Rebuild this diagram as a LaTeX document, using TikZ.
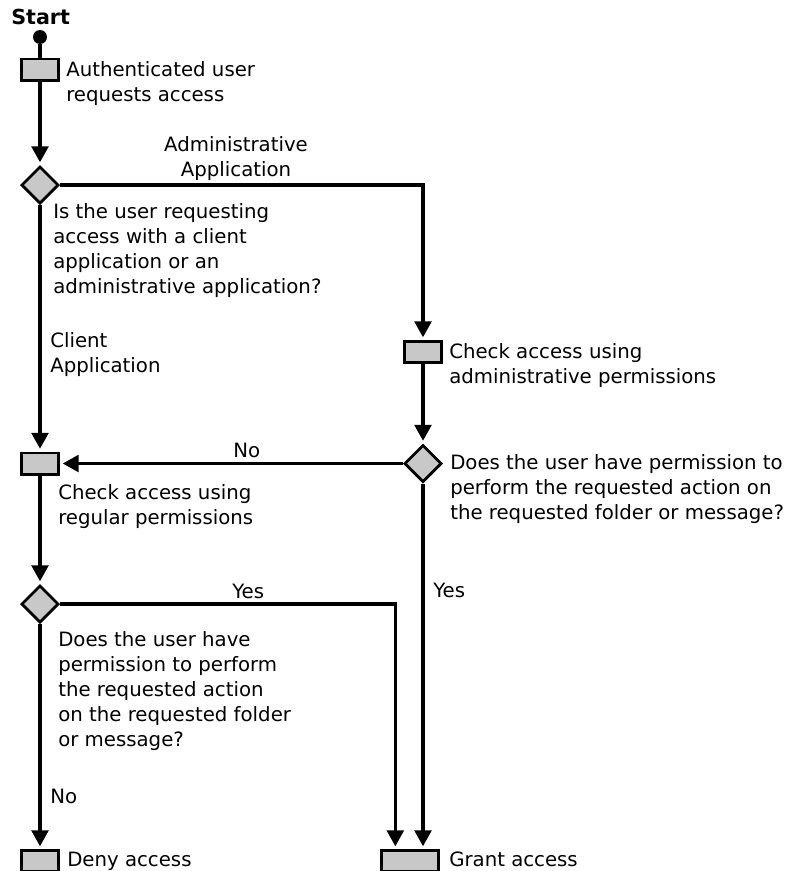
\documentclass[tikz,border=0pt]{standalone}
\usepackage{fontspec}
\setmainfont{DejaVu Sans}
\usetikzlibrary{arrows.meta,shapes.geometric}
\definecolor{boxgray}{RGB}{200,200,200}
\begin{document}
\begin{tikzpicture}[x=0.75pt,y=-0.75pt,
  wire/.style={line width=2.6pt},
  flow/.style={wire,-{Triangle[length=12pt,width=12.5pt]},shorten >=2pt},
  actbox/.style={draw,line width=2pt,fill=boxgray,minimum width=28pt,minimum height=16pt,inner sep=0pt},
  decision/.style={diamond,draw,line width=2pt,fill=boxgray,minimum width=28pt,minimum height=28pt,inner sep=0pt},
  lbl/.style={font=\fontsize{14.8}{18.75}\selectfont,align=left,anchor=base west,inner sep=0pt},
]
\useasboundingbox (0,0) rectangle (788,871);

% shapes
\node[circle,fill=black,inner sep=0pt,minimum size=10.5pt] (start) at (40,37) {};
\node[actbox] (req) at (40,69.5) {};
\node[decision] (d1) at (40,185) {};
\node[actbox] (adm) at (423,352) {};
\node[decision] (d2) at (423,463.5) {};
\node[actbox] (reg) at (40,463.5) {};
\node[decision] (d3) at (40,604) {};
\node[actbox] (deny) at (40,861) {};
\node[actbox,minimum width=42.5pt] (grant) at (410,861) {};

% connectors
\draw[wire] (start) -- (req);
\draw[flow] (req) -- (d1);
\draw[flow] (d1.east) -| (adm.north);
\draw[flow] (adm) -- (d2);
\draw[flow] (d2.west) -- (reg.east);
\draw[flow] (d1) -- (reg);
\draw[flow] (reg) -- (d3);
\draw[flow] (d3) -- (deny);
\draw[flow] (d3.east) -| ([xshift=-11pt]grant.north);
\draw[flow] (d2.south) -- (d2.south |- grant.north);

% texts (multi-line labels are placed by the baseline of their last line)
\node[lbl,font=\fontsize{15.5}{18.75}\selectfont\bfseries] (tstart) at (11,24) {Start};
\node[lbl] (treq) at (66,101) {Authenticated user\\requests access};
\node[lbl,align=center,anchor=base] (tadmapp) at (236,176) {Administrative\\Application};
\node[lbl] (tq1) at (53,293) {Is the user requesting\\access with a client\\application or an\\administrative application?};
\node[lbl] (tclient) at (50,372) {Client\\Application};
\node[lbl] (tadm) at (449,383) {Check access using\\administrative permissions};
\node[lbl] (tno1) at (233,457) {No};
\node[lbl] (tq2) at (450,519) {Does the user have permission to\\perform the requested action on\\the requested folder or message?};
\node[lbl] (treg) at (58,524) {Check access using\\regular permissions};
\node[lbl] (tyes1) at (232,598) {Yes};
\node[lbl] (tyes2) at (433,597) {Yes};
\node[lbl] (tq3) at (58,746) {Does the user have\\permission to perform\\the requested action\\on the requested folder\\or message?};
\node[lbl] (tno2) at (50,803) {No};
\node[lbl] (tdeny) at (67,866) {Deny access};
\node[lbl] (tgrant) at (449,866) {Grant access};
\end{tikzpicture}
\end{document}
